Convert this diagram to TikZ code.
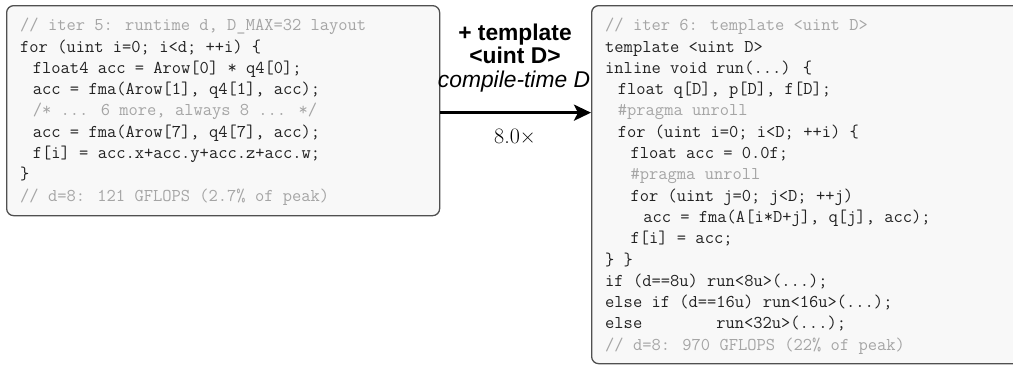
\documentclass[tikz,border=0pt]{standalone}
\usepackage{fontspec}
\newfontfamily\lblfont{Liberation Sans}
\usetikzlibrary{arrows.meta}

\definecolor{codeink}{RGB}{34,34,34}
\definecolor{cmtink}{RGB}{165,165,165}
\definecolor{boxfill}{RGB}{248,248,248}
\definecolor{boxline}{RGB}{80,80,80}

% comment text in code listings
\newcommand{\cmt}[1]{\textcolor{cmtink}{#1}}
% indentation step of the listings
\newcommand{\ind}[1]{\hspace*{#1\dimexpr 12.7pt\relax}}

\tikzset{
  codebox/.style={draw=boxline, line width=1.3pt, fill=boxfill,
    rounded corners=7pt, inner sep=0pt, anchor=north west},
  codetext/.style={inner sep=0pt, anchor=north west, text=codeink,
    font=\fontsize{18}{21.3}\selectfont\ttfamily},
  lblbold/.style={anchor=base, inner sep=0pt,
    font=\fontsize{22.8}{24}\selectfont\lblfont\bfseries},
  lblital/.style={anchor=base, inner sep=0pt,
    font=\fontsize{22.8}{24}\selectfont\lblfont\itshape},
  speedup/.style={anchor=base, inner sep=0pt,
    font=\fontsize{22}{24}\selectfont},
  flow/.style={line width=3pt, -{Stealth[length=17pt,width=16pt,inset=4pt]}},
}

\begin{document}
\begin{tikzpicture}[x=1pt, y=-1pt]
\useasboundingbox (0,0) rectangle (1013,365);

% the two listings
\node[codebox, minimum width=433pt, minimum height=210pt] (iter5) at (6,5) {};
\node[codebox, minimum width=434pt, minimum height=358pt] (iter6) at (591,5) {};

\node[codetext] (code5) at (20,15.6) {%
\begin{tabular}{@{}l@{}}
\cmt{// iter 5: runtime d, D\_MAX=32 layout}\\
for (uint i=0; i<d; ++i) \{\\
\ind1float4 acc = Arow[0] * q4[0];\\
\ind1acc = fma(Arow[1], q4[1], acc);\\
\ind1\cmt{/* ... 6 more, always 8 ... */}\\
\ind1acc = fma(Arow[7], q4[7], acc);\\
\ind1f[i] = acc.x+acc.y+acc.z+acc.w;\\
\}\\
\cmt{// d=8: 121 GFLOPS (2.7\% of peak)}
\end{tabular}};

\node[codetext] (code6) at (605,15.6) {%
\begin{tabular}{@{}l@{}}
\cmt{// iter 6: template <uint D>}\\
template <uint D>\\
inline void run(...) \{\\
\ind1float q[D], p[D], f[D];\\
\ind1\cmt{\#pragma unroll}\\
\ind1for (uint i=0; i<D; ++i) \{\\
\ind2float acc = 0.0f;\\
\ind2\cmt{\#pragma unroll}\\
\ind2for (uint j=0; j<D; ++j)\\
\ind3acc = fma(A[i*D+j], q[j], acc);\\
\ind2f[i] = acc;\\
\} \}\\
if (d==8u) run<8u>(...);\\
else if (d==16u) run<16u>(...);\\
else\hspace*{74pt}run<32u>(...);\\
\cmt{// d=8: 970 GFLOPS (22\% of peak)}
\end{tabular}};

% transformation arrow with its labels
\path ([yshift=-2pt]iter5.east) coordinate (flowstart);
\draw[flow] (flowstart) -- (flowstart -| iter6.west);

\node[lblbold] (lbl1) at (515,40) {+ template};
\node[lblbold] (lbl2) at (515,63.5) {<uint D>};
\node[lblital] (lbl3) at (514,87) {compile-time D};
\node[speedup] (gain) at (515,143) {8.0×};
\end{tikzpicture}
\end{document}
